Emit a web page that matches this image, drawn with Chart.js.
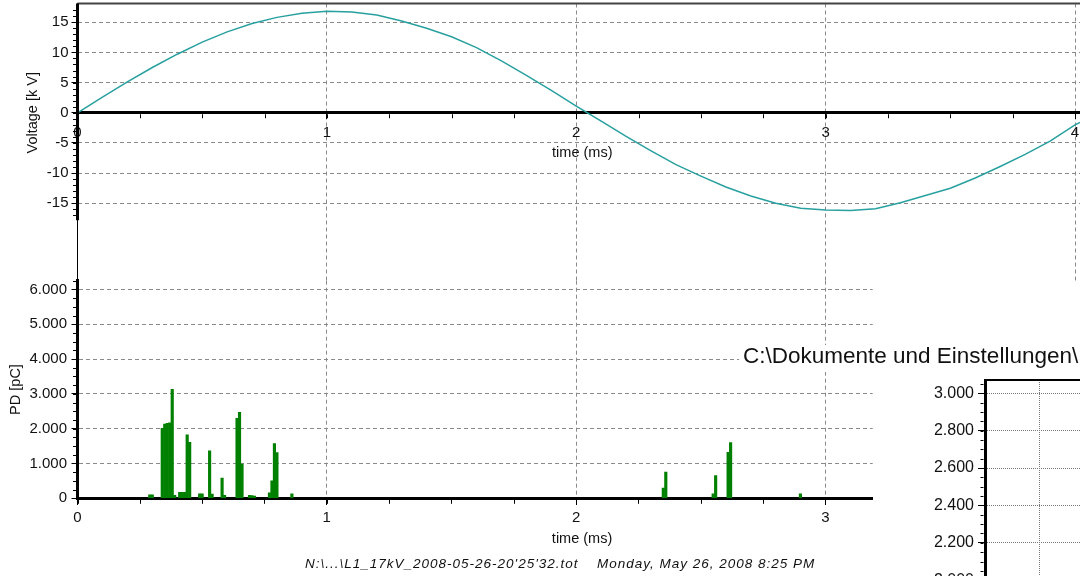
<!DOCTYPE html>
<html>
<head>
<meta charset="utf-8">
<script src="https://cdn.jsdelivr.net/npm/chart.js@4/dist/chart.umd.min.js"></script>
<style>
  html, body { margin: 0; padding: 0; width: 1080px; height: 576px; overflow: hidden; background: #fff; }
  canvas { position: absolute; }
</style>
</head>
<body>
<canvas id="voltChart" width="1080" height="284" style="left:0;top:0"></canvas>
<canvas id="pdChart" width="1080" height="298" style="left:0;top:278px"></canvas>
<canvas id="zoomChart" width="560" height="260" style="left:735px;top:335px"></canvas>
<script>
// voltage trace (ms, kV)
var voltTime = [0, 0.1, 0.2, 0.3, 0.4, 0.5, 0.6, 0.7, 0.8, 0.9,
                1.0, 1.1, 1.2, 1.3, 1.4, 1.5, 1.6, 1.7, 1.8, 1.9,
                2.0, 2.1, 2.2, 2.3, 2.4, 2.5, 2.6, 2.7, 2.8, 2.9,
                3.0, 3.1, 3.2, 3.3, 3.4, 3.5, 3.6, 3.7, 3.8, 3.9, 4.0, 4.02];
var voltKV = [0, 2.6, 5.1, 7.5, 9.7, 11.7, 13.4, 14.8, 15.8, 16.5,
              16.8, 16.7, 16.2, 15.2, 14.0, 12.6, 10.8, 8.6, 6.2, 3.7,
              1.1, -1.4, -3.9, -6.3, -8.6, -10.5, -12.3, -13.8, -15.0, -15.8,
              -16.1, -16.2, -15.9, -14.9, -13.7, -12.5, -10.8, -8.9, -6.9, -4.7, -2.0, -1.6];
var voltTicks = [-15, -10, -5, 0, 5, 10, 15];
var timeTicksTop = [0, 1, 2, 3, 4];

// PD pulses (ms, pC)
var pdTime = [0.29, 0.30, 0.34, 0.35, 0.36, 0.37, 0.38, 0.39, 0.41, 0.42, 0.43, 0.44, 0.45,
              0.49, 0.50, 0.53, 0.54, 0.58, 0.59, 0.64, 0.65, 0.66, 0.69, 0.70, 0.71,
              0.77, 0.78, 0.79, 0.80, 0.86,
              2.35, 2.36, 2.55, 2.56, 2.61, 2.62, 2.90];
var pdCharge = [100, 100, 2010, 2130, 2150, 2170, 3130, 85, 170, 170, 170, 1820, 1610,
                130, 130, 1360, 120, 580, 85, 2300, 2470, 985, 85, 80, 65,
                160, 500, 1570, 1310, 130,
                290, 750, 125, 650, 1320, 1600, 125];
var pdTicks = [0, 1000, 2000, 3000, 4000, 5000, 6000];
var timeTicksBottom = [0, 1, 2, 3];

// overlapping window
var zoomTicks = [2000, 2200, 2400, 2600, 2800, 3000];
var zoomGridX = [0, 1, 2, 3, 4, 5];

var timeTitle = 'time (ms)';
var fileLabel = "N:\\...\\L1_17kV_2008-05-26-20'25'32.tot";
var dateLabel = 'Monday, May 26, 2008 8:25 PM';
var zoomTitle = 'C:\\Dokumente und Einstellungen\\';

Chart.defaults.font.family = "'Liberation Sans', Arial, sans-serif";
Chart.defaults.color = '#111';
Chart.defaults.animation = false;

var gridGray = '#8a8a8a';

function thousands(v) {
    return String(v).replace(/\B(?=(\d{3})+(?!\d))/g, '.');
}

function fixTicks(values) {
    return function(scale) {
        scale.ticks = values.map(function(v) { return {value: v}; });
    };
}

// keep the plot area where it is set, labels may hang over
function fitTo(size) {
    return function(scale) {
        if (scale.isHorizontal()) {
            scale.height = size;
        } else {
            scale.width = size;
        }
        scale.paddingTop = 0;
        scale.paddingBottom = 0;
        scale.paddingLeft = 0;
        scale.paddingRight = 0;
    };
}

function hideAtZero(ctx) {
    return ctx.tick && ctx.tick.value === 0 ? 'transparent' : gridGray;
}

function minorTicks(chart, axisId, step, from, to, len, half) {
    var scale = chart.scales[axisId];
    var area = chart.chartArea;
    var ctx = chart.ctx;
    ctx.save();
    ctx.strokeStyle = '#000';
    ctx.lineWidth = 1;
    ctx.beginPath();
    for (var i = Math.ceil(from / step - 1e-9); i * step <= to + 1e-9; i++) {
        var p = Math.round(scale.getPixelForValue(i * step)) + 0.5;
        if (scale.axis === 'y') {
            var x0 = area.left - half;
            ctx.moveTo(x0, p);
            ctx.lineTo(x0 - len, p);
        } else {
            var y0 = chart.scales.y.getPixelForValue(0) + half;
            ctx.moveTo(p, y0);
            ctx.lineTo(p, y0 + len);
        }
    }
    ctx.stroke();
    ctx.restore();
}

function text(ctx, str, x, y, font, opts) {
    opts = opts || {};
    ctx.save();
    ctx.translate(x, y);
    if (opts.angle) ctx.rotate(opts.angle);
    ctx.font = font;
    ctx.fillStyle = '#111';
    ctx.textAlign = opts.align || 'center';
    ctx.textBaseline = 'middle';
    if (opts.spacing) ctx.letterSpacing = opts.spacing;
    ctx.fillText(str, 0, 0);
    ctx.restore();
}

// top: voltage
new Chart(document.getElementById('voltChart'), {
    type: 'line',
    data: {
        datasets: [{
            data: voltTime.map(function(t, i) { return {x: t, y: voltKV[i]}; }),
            borderColor: 'rgb(40, 160, 160)',
            borderWidth: 1.5,
            pointRadius: 0,
            tension: 0
        }]
    },
    options: {
        responsive: false,
        layout: {padding: {top: 3.5, right: 0, bottom: 1, left: 0}},
        plugins: {legend: {display: false}, tooltip: {enabled: false}},
        scales: {
            x: {
                type: 'linear', min: 0, max: 4.02,
                position: {y: 0},
                afterBuildTicks: fixTicks(timeTicksTop),
                afterFit: fitTo(0),
                grid: {color: hideAtZero, tickColor: '#000', tickLength: 5},
                border: {width: 3, color: '#000', dash: [4, 3]},
                ticks: {font: {size: 15}, padding: 6, maxRotation: 0, autoSkip: false}
            },
            y: {
                min: -28.2, max: 18.1,
                afterBuildTicks: fixTicks(voltTicks),
                afterFit: fitTo(77.5),
                grid: {color: hideAtZero, tickColor: '#000', tickLength: 6},
                border: {width: 1, color: '#000', dash: [4, 3]},
                ticks: {font: {size: 15}, padding: 3}
            }
        }
    },
    plugins: [{
        id: 'voltDecor',
        afterDraw: function(chart) {
            var ctx = chart.ctx, a = chart.chartArea, y = chart.scales.y, x = chart.scales.x;
            ctx.save();
            ctx.strokeStyle = '#444';
            ctx.lineWidth = 2;
            ctx.beginPath();
            ctx.moveTo(a.left, a.top);
            ctx.lineTo(a.right, a.top);
            ctx.stroke();
            ctx.strokeStyle = '#000';
            ctx.lineWidth = 3;
            ctx.beginPath();
            ctx.moveTo(a.left, a.top);
            ctx.lineTo(a.left, y.getPixelForValue(-17.8));
            ctx.stroke();
            ctx.restore();
            minorTicks(chart, 'y', 1, -17, 17, 3, 1.5);
            minorTicks(chart, 'x', 0.25, 0, 4, 4, 1.5);
            text(ctx, 'Voltage [k V]', 32.5, y.getPixelForValue(0), '14.5px "Liberation Sans"', {angle: -Math.PI / 2});
            text(ctx, timeTitle, x.getPixelForValue(2) + 6, 153, '14.5px "Liberation Sans"');
        }
    }]
});

// bottom: PD pulses
new Chart(document.getElementById('pdChart'), {
    type: 'bar',
    data: {
        datasets: [{
            data: pdTime.map(function(t, i) { return {x: t, y: pdCharge[i]}; }),
            backgroundColor: '#008000',
            borderWidth: 0,
            barPercentage: 1,
            categoryPercentage: 1
        }]
    },
    options: {
        responsive: false,
        layout: {padding: {top: 2.7, right: 207.3, bottom: 77.7, left: 0}},
        plugins: {legend: {display: false}, tooltip: {enabled: false}},
        scales: {
            x: {
                type: 'linear', min: 0, max: 3.19, offset: false,
                position: {y: 0},
                afterBuildTicks: fixTicks(timeTicksBottom),
                afterFit: fitTo(0),
                grid: {color: hideAtZero, tickColor: '#000', tickLength: 5, offset: false},
                border: {width: 3, color: '#000', dash: [4, 3]},
                ticks: {font: {size: 15}, padding: 6, maxRotation: 0, autoSkip: false}
            },
            y: {
                min: 0, max: 6250,
                afterBuildTicks: fixTicks(pdTicks),
                afterFit: fitTo(77.5),
                grid: {color: hideAtZero, tickColor: '#000', tickLength: 6},
                border: {width: 3, color: '#000', dash: [4, 3]},
                ticks: {font: {size: 15}, padding: 4.5, callback: function(v) { return thousands(v); }}
            }
        }
    },
    plugins: [{
        id: 'pdDecor',
        afterDraw: function(chart) {
            var ctx = chart.ctx, a = chart.chartArea, x = chart.scales.x;
            minorTicks(chart, 'y', 250, 0, 6250, 3, 1.5);
            minorTicks(chart, 'x', 0.25, 0, 3.19, 4, 1.5);
            text(ctx, 'PD [pC]', 16, (a.top + a.bottom) / 2, '14.5px "Liberation Sans"', {angle: -Math.PI / 2});
            text(ctx, timeTitle, x.getPixelForValue(2) + 6, 261, '14.5px "Liberation Sans"');
            text(ctx, fileLabel, 305, 286, 'italic 13.5px "Liberation Sans"', {align: 'left', spacing: '1px'});
            text(ctx, dateLabel, 597, 286, 'italic 13.5px "Liberation Sans"', {align: 'left', spacing: '1px'});
        }
    }]
});

// right: overlapping zoom window
new Chart(document.getElementById('zoomChart'), {
    type: 'line',
    data: {datasets: [{data: []}]},
    options: {
        responsive: false,
        layout: {padding: {top: 45, right: 0, bottom: 0, left: 0}},
        plugins: {legend: {display: false}, tooltip: {enabled: false}},
        scales: {
            x: {
                type: 'linear', min: 0, max: 5.71,
                afterBuildTicks: fixTicks(zoomGridX),
                afterFit: fitTo(0),
                grid: {color: '#777', drawTicks: false},
                border: {display: false, dash: [1, 1]},
                ticks: {display: false}
            },
            y: {
                min: 1921, max: 3071,
                afterBuildTicks: fixTicks(zoomTicks),
                afterFit: fitTo(250),
                grid: {color: '#777', tickColor: '#000', tickLength: 7},
                border: {width: 3, color: '#000', dash: [1, 1]},
                ticks: {font: {size: 16}, padding: 4, callback: function(v) { return thousands(v); }}
            }
        }
    },
    plugins: [{
        id: 'zoomDecor',
        beforeDraw: function(chart) {
            var ctx = chart.ctx, a = chart.chartArea;
            ctx.save();
            ctx.fillStyle = '#fff';
            ctx.fillRect(a.left, a.top, a.right - a.left, a.bottom - a.top);
            ctx.fillRect(4, 10, chart.width - 4, 27);
            ctx.restore();
        },
        afterDraw: function(chart) {
            var ctx = chart.ctx, a = chart.chartArea;
            ctx.save();
            ctx.strokeStyle = '#000';
            ctx.lineWidth = 2;
            ctx.beginPath();
            ctx.moveTo(a.left, a.top);
            ctx.lineTo(a.right, a.top);
            ctx.stroke();
            ctx.restore();
            minorTicks(chart, 'y', 50, 1950, 3050, 3, 1.5);
            text(ctx, zoomTitle, 8, 22, '22.5px "Liberation Sans"', {align: 'left'});
        }
    }]
});
</script>
</body>
</html>
